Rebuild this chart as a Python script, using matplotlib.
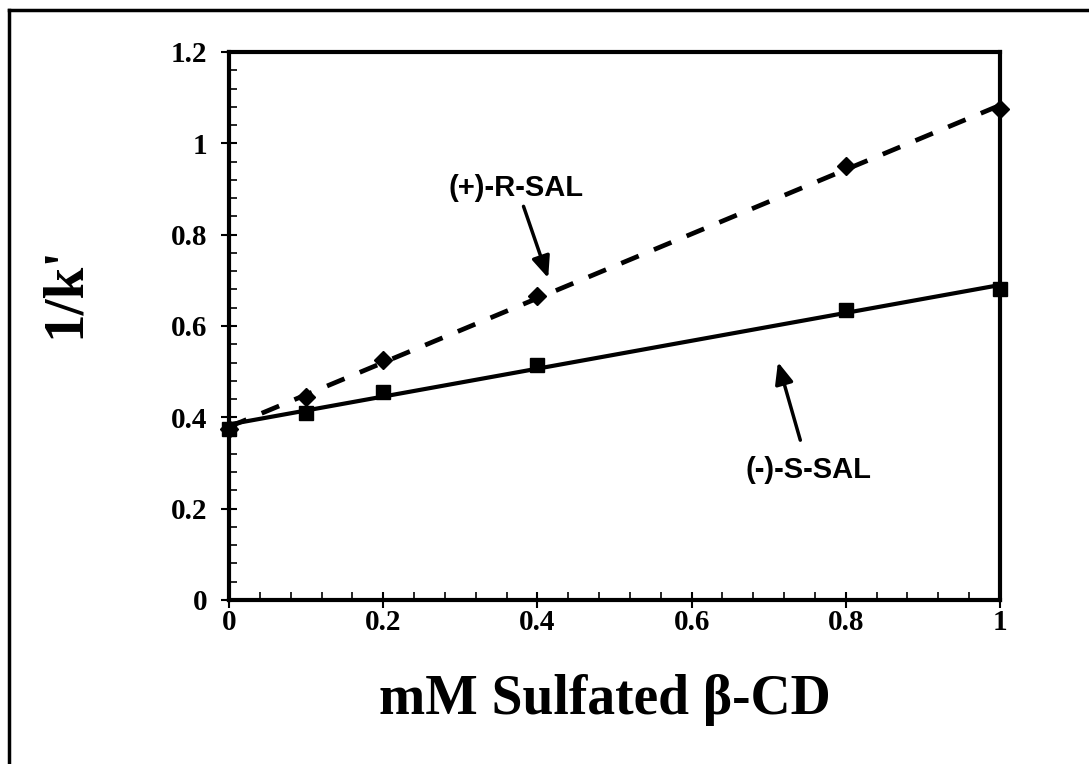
import matplotlib.pyplot as plt
import numpy as np
from matplotlib.ticker import MultipleLocator

# data
conc = [0, 0.1, 0.2, 0.4, 0.8, 1.0]
r_sal = [0.375, 0.445, 0.525, 0.665, 0.95, 1.075]
s_sal = [0.375, 0.41, 0.455, 0.515, 0.635, 0.68]
xticks = [0, 0.2, 0.4, 0.6, 0.8, 1]
xticklabels = ["0", "0.2", "0.4", "0.6", "0.8", "1"]
yticks = [0, 0.2, 0.4, 0.6, 0.8, 1, 1.2]
yticklabels = ["0", "0.2", "0.4", "0.6", "0.8", "1", "1.2"]

serif = "Liberation Serif"
sans = "Liberation Sans"
W, H = 1089, 764

fig = plt.figure(figsize=(W / 100, H / 100), dpi=100)
ax = fig.add_axes([229 / W, 1 - 600 / H, 771 / W, 548 / H])

# linear trend lines
xx = np.array([0, 1.0])
pr = np.polyfit(conc, r_sal, 1)
ps = np.polyfit(conc, s_sal, 1)
ax.plot(xx, np.polyval(pr, xx), ls=(0, (4, 3.5)), color="black", lw=3.4, zorder=2)
ax.plot(xx, np.polyval(ps, xx), ls="-", color="black", lw=3.0, zorder=2)

ax.plot(conc, r_sal, ls="none", marker="D", ms=9, color="black", zorder=3, clip_on=False)
ax.plot(conc, s_sal, ls="none", marker="s", ms=10, color="black", zorder=3, clip_on=False)

ax.set_xlim(0, 1)
ax.set_ylim(0, 1.2)
ax.set_xticks(xticks)
ax.set_xticklabels(xticklabels, fontfamily=serif, fontweight="bold", fontsize=21)
ax.set_yticks(yticks)
ax.set_yticklabels(yticklabels, fontfamily=serif, fontweight="bold", fontsize=21)
ax.xaxis.set_minor_locator(MultipleLocator(0.04))
ax.yaxis.set_minor_locator(MultipleLocator(0.04))
ax.tick_params(which="major", direction="inout", length=11, width=1.5)
ax.tick_params(which="minor", direction="in", length=6, width=1.2)
ax.tick_params(axis="x", which="major", pad=1)
ax.tick_params(axis="y", which="major", pad=10)

for s in ax.spines.values():
    s.set_linewidth(3)

fig.text(605 / W, 1 - 700 / H, "mM Sulfated β-CD", fontfamily=serif, fontweight="bold",
         fontsize=40, ha="center", va="center")
fig.text(65 / W, 1 - 292 / H, "1/k'", fontfamily=serif, fontweight="bold",
         fontsize=41, ha="center", va="center", rotation=90)

ax.text(0.372, 0.902, "(+)-R-SAL", fontfamily=sans, fontweight="bold", fontsize=21,
        ha="center", va="center")
ax.text(0.752, 0.285, "(-)-S-SAL", fontfamily=sans, fontweight="bold", fontsize=21,
        ha="center", va="center")
arrow = dict(arrowstyle="-|>,head_length=1.3,head_width=0.55", color="black", lw=2.5,
             shrinkA=0, shrinkB=0)
ax.annotate("", xy=(0.414, 0.705), xytext=(0.382, 0.862), arrowprops=arrow)
ax.annotate("", xy=(0.712, 0.521), xytext=(0.741, 0.350), arrowprops=arrow)

# outer frame (top and left edges)
fig.add_artist(plt.Line2D([9 / W, 1], [1 - 10 / H, 1 - 10 / H], color="black", lw=2.5))
fig.add_artist(plt.Line2D([9 / W, 9 / W], [0, 1 - 10 / H], color="black", lw=2.5))

fig.savefig("out.png", dpi=100)
